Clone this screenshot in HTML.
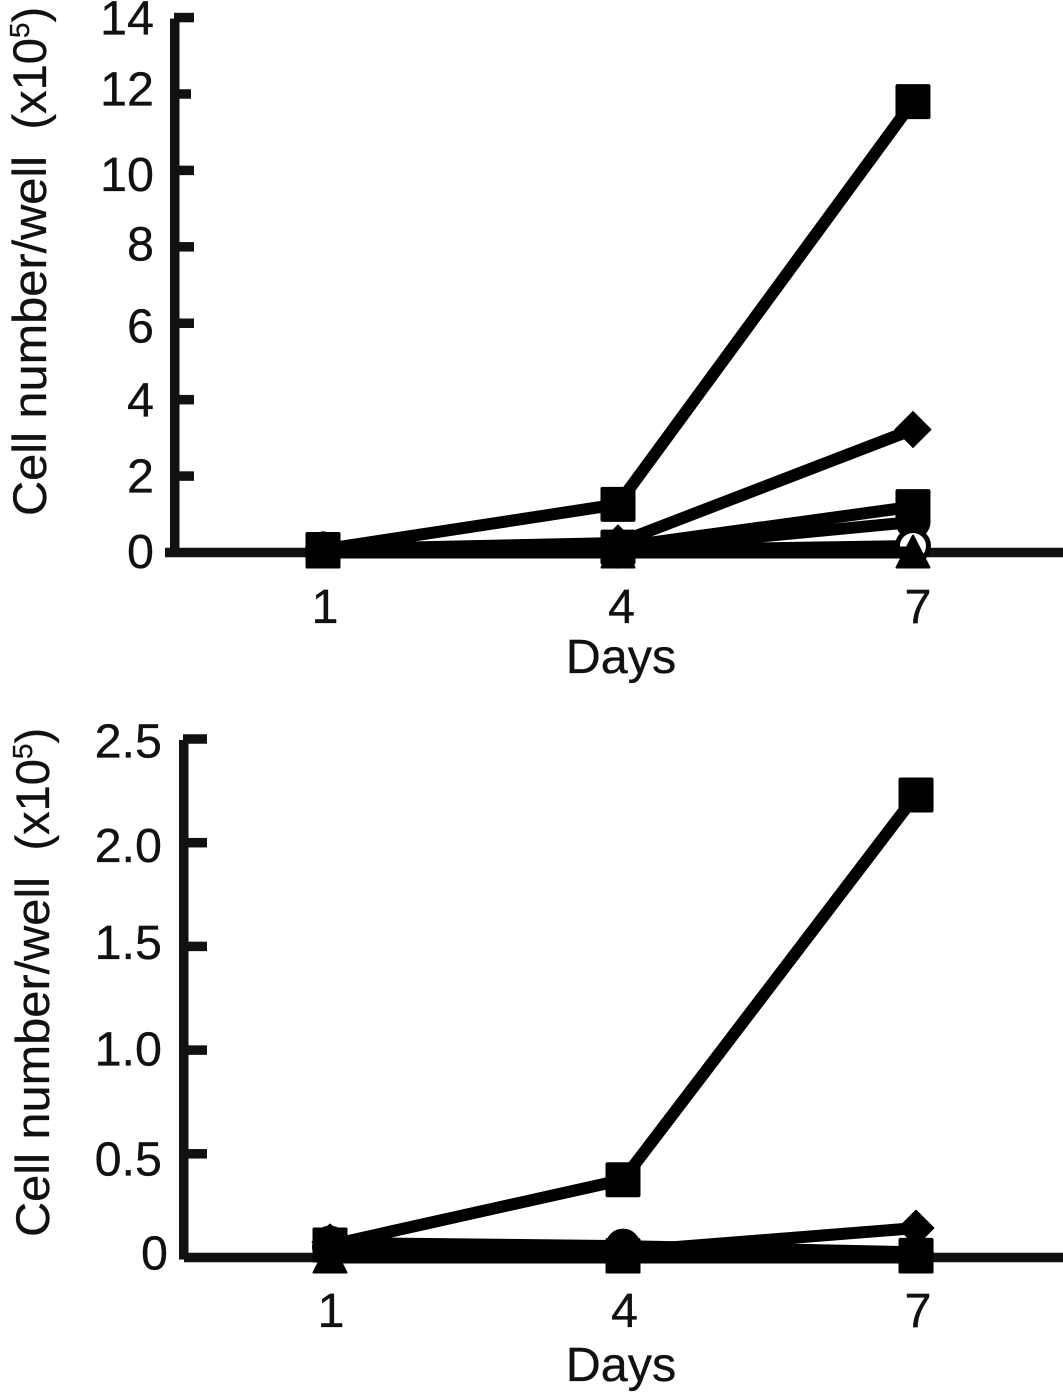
<!DOCTYPE html>
<html>
<head>
<meta charset="utf-8">
<title>Cell number per well over days</title>
<style>
html,body{margin:0;padding:0;background:#fff;}
svg{display:block;}
text{font-family:"Liberation Sans",sans-serif;fill:#111;stroke:#111;stroke-width:0.3px;}
</style>
</head>
<body>
<svg id="chart" xmlns="http://www.w3.org/2000/svg" width="1063" height="1393" viewBox="0 0 1063 1393"></svg>
<script>
const dayLabels = [1, 4, 7];

const topTickValues = [0, 2, 4, 6, 8, 10, 12, 14];
const topMinorTicks = [12];
const topSquareA = [0.08, 1.26, 11.8];
const topDiamond = [0.08, 0.25, 3.22];
const topSquareB = [0.08, 0.14, 1.2];
const topCircle = [0.08, 0.06, 0.8];
const topOpenCircle = [0.08, 0.05, 0.17];
const topTriangle = [0.0, 0.0, 0.0];

const bottomTickValues = [0, 0.5, 1.0, 1.5, 2.0, 2.5];
const bottomTickLabels = ["0", "0.5", "1.0", "1.5", "2.0", "2.5"];
const bottomSquareA = [0.06, 0.375, 2.23];
const bottomDiamond = [0.075, 0.03, 0.142];
const bottomCircle = [0.07, 0.055, 0.025];
const bottomSquareB = [0.06, 0.01, 0.01];
const bottomOpenCircle = [0.05, 0.01, 0.01];
const bottomTriangle = [0.0, 0.0, 0.0];

const NS = "http://www.w3.org/2000/svg";
const root = document.getElementById("chart");

function make(tag, attrs, parent) {
  const el = document.createElementNS(NS, tag);
  for (const k in attrs) el.setAttribute(k, attrs[k]);
  parent.appendChild(el);
  return el;
}

function drawMarker(kind, cx, cy, g) {
  let m;
  if (kind === "square") {
    m = make("rect", {x: cx - 17.5, y: cy - 17.5, width: 35, height: 35, rx: 2, fill: "#000"}, g);
  } else if (kind === "diamond") {
    m = make("polygon", {points: [cx, cy - 18, cx + 18, cy, cx, cy + 18, cx - 18, cy].join(","), fill: "#000", stroke: "#000", "stroke-width": 1, "stroke-linejoin": "round"}, g);
  } else if (kind === "circle") {
    m = make("circle", {cx: cx, cy: cy, r: 17.5, fill: "#000"}, g);
  } else if (kind === "open-circle") {
    m = make("circle", {cx: cx, cy: cy, r: 15.5, fill: "#fff", stroke: "#000", "stroke-width": 5}, g);
  } else {
    m = make("polygon", {points: [cx, cy - 17, cx + 16.5, cy + 15, cx - 16.5, cy + 15].join(","), fill: "#000", stroke: "#000", "stroke-width": 2, "stroke-linejoin": "round"}, g);
  }
  
  
}

function drawPanel(panel) {
  const g = make("g", {}, root);
  
  

  const xScale = d => panel.x0 + (d - 1) * panel.xStep;
  const yScale = v => panel.y0 - v * panel.yUnit;
  const topValue = panel.ticks[panel.ticks.length - 1];

  const yAxis = make("rect", {x: panel.axisX, y: yScale(topValue) + 1, width: 9.5, height: panel.y0 - yScale(topValue) + 1, fill: "#111"}, g);
  
  

  panel.ticks.forEach((v, i) => {
    const short = panel.minor.indexOf(v) >= 0;
    if (v !== 0) {
      const tick = make("rect", {x: panel.axisX + 4, y: yScale(v) - 4.75, width: short ? panel.tickLen - 3 : panel.tickLen, height: 9.5, fill: "#111"}, g);
      
      
    }
    const label = make("text", {x: v === 0 ? panel.zeroRight : panel.labelRight, y: yScale(v) + panel.labelShift(v), "text-anchor": "end", "font-size": 48.5}, g);
    label.textContent = panel.tickLabels[i];
    
    
  });

  const xAxis = make("rect", {x: panel.xAxisStart, y: panel.y0 - 4.75, width: 1063 - panel.xAxisStart, height: 9.5, fill: "#111"}, g);
  
  

  dayLabels.forEach(d => {
    const label = make("text", {x: panel.dayLabelX0 + (d - 1) * panel.dayLabelStep, y: panel.dayBaseline, "text-anchor": "middle", "font-size": 48.5}, g);
    label.textContent = d;
    
    
  });

  const xTitle = make("text", {x: 621, y: panel.titleBaseline, "text-anchor": "middle", "font-size": 48.5}, g);
  xTitle.textContent = "Days";
  
  

  const yTitle = make("text", {transform: "translate(" + panel.yTitleX + "," + panel.yTitleY + ") rotate(-90)", "font-size": 47, textLength: 360, lengthAdjust: "spacingAndGlyphs"}, g);
  yTitle.textContent = "Cell number/well";
  
  

  const yUnit = make("text", {transform: "translate(" + panel.yTitleX + "," + (panel.yTitleY - 386.5) + ") rotate(-90)", "font-size": 47}, g);
  
  
  const t1 = make("tspan", {}, yUnit);
  t1.textContent = "(x10";
  const t2 = make("tspan", {"font-size": 28, dy: -17}, yUnit);
  t2.textContent = "5";
  const t3 = make("tspan", {dy: 17}, yUnit);
  t3.textContent = ")";

  const groups = panel.series.map(s => {
    const sg = make("g", {}, g);
    
    
    const pts = s.values.map((v, i) => xScale(dayLabels[i]) + "," + yScale(v)).join(" ");
    const line = make("polyline", {points: pts, fill: "none", stroke: "#000", "stroke-width": 12, "stroke-linejoin": "round"}, sg);
    
    
    return sg;
  });
  panel.series.forEach((s, si) => {
    s.values.forEach((v, i) => drawMarker(s.kind, xScale(dayLabels[i]), yScale(v), groups[si]));
  });
}

drawPanel({
  name: "top-panel", x0: 323, xStep: 98.33, y0: 552.5, yUnit: 38.21,
  axisX: 170, tickLen: 20, labelRight: 154, zeroRight: 154, xAxisStart: 165,
  dayLabelX0: 325, dayLabelStep: 98.83, dayBaseline: 623, titleBaseline: 673, yTitleX: 46, yTitleY: 516,
  labelShift: v => ({0: 15.5, 2: 16.5, 4: 17, 6: 19.5, 8: 13.5, 10: 20.5, 12: 11.5, 14: 17})[v],
  ticks: topTickValues, tickLabels: topTickValues.map(String), minor: topMinorTicks,
  series: [
    {id: "circle", kind: "circle", values: topCircle},
    {id: "open-circle", kind: "open-circle", values: topOpenCircle},
    {id: "square-b", kind: "square", values: topSquareB},
    {id: "diamond", kind: "diamond", values: topDiamond},
    {id: "square-a", kind: "square", values: topSquareA},
    {id: "triangle", kind: "triangle", values: topTriangle}
  ]
});

drawPanel({
  name: "bottom-panel", x0: 330, xStep: 97.67, y0: 1257.5, yUnit: 207.4,
  axisX: 179, tickLen: 24, labelRight: 162, zeroRight: 168, xAxisStart: 184,
  dayLabelX0: 331, dayLabelStep: 97.83, dayBaseline: 1327, titleBaseline: 1381, yTitleX: 49, yTitleY: 1237,
  labelShift: v => ({0: 12, 0.5: 21.5, 1: 15.5, 1.5: 12.5, 2: 19.5, 2.5: 18.5})[v],
  ticks: bottomTickValues, tickLabels: bottomTickLabels, minor: [],
  series: [
    {id: "open-circle", kind: "open-circle", values: bottomOpenCircle},
    {id: "circle", kind: "circle", values: bottomCircle},
    {id: "square-b", kind: "square", values: bottomSquareB},
    {id: "diamond", kind: "diamond", values: bottomDiamond},
    {id: "square-a", kind: "square", values: bottomSquareA},
    {id: "triangle", kind: "triangle", values: bottomTriangle}
  ]
});
</script>
</body>
</html>
